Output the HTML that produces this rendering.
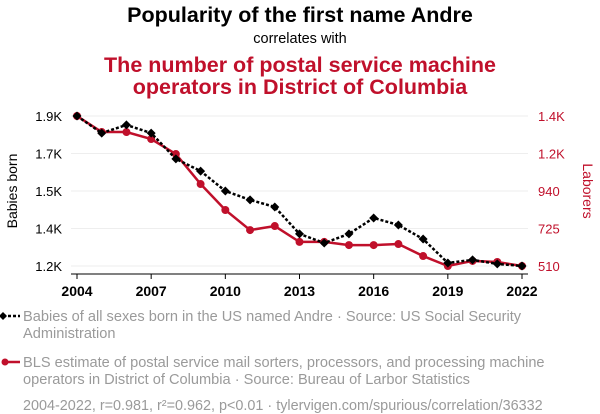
<!DOCTYPE html>
<html><head><meta charset="utf-8"><style>
body{margin:0;background:#fff;}
svg{display:block;font-family:"Liberation Sans",Arial,sans-serif;}
</style></head><body>
<svg id="chart" width="600" height="414" viewBox="0 0 600 414">
<text x="300" y="22" text-anchor="middle" font-size="21.5" font-weight="bold" fill="#000">Popularity of the first name Andre</text>
<text x="300" y="43" text-anchor="middle" font-size="14.5" fill="#000">correlates with</text>
<text x="300" y="72" text-anchor="middle" font-size="21.5" font-weight="bold" fill="#c0102b">The number of postal service machine</text>
<text x="300" y="94" text-anchor="middle" font-size="21.5" font-weight="bold" fill="#c0102b">operators in District of Columbia</text>
<g id="grid"></g><g id="axes"></g><g id="series"></g>
<text transform="translate(17,191) rotate(-90)" text-anchor="middle" font-size="14" fill="#000">Babies born</text>
<text transform="translate(583,191) rotate(90)" text-anchor="middle" font-size="14" fill="#c0102b">Laborers</text>
<g>
<line x1="3" y1="316" x2="20" y2="316" stroke="#000" stroke-width="2.5" stroke-dasharray="3,2"/>
<path d="M3,312 L7,316 L3,320 L-1,316 Z" fill="#000"/>
<text x="23" y="321" font-size="14.6" fill="#9a9a9a">Babies of all sexes born in the US named Andre · Source: US Social Security</text>
<text x="23" y="338" font-size="14.6" fill="#9a9a9a">Administration</text>
</g>
<g>
<line x1="3" y1="362" x2="20" y2="362" stroke="#c0102b" stroke-width="2.5"/>
<circle cx="5" cy="362" r="3.5" fill="#c0102b"/>
<text x="23" y="367" font-size="14.6" fill="#9a9a9a">BLS estimate of postal service mail sorters, processors, and processing machine</text>
<text x="23" y="384" font-size="14.6" fill="#9a9a9a">operators in District of Columbia · Source: Bureau of Larbor Statistics</text>
</g>
<text x="23" y="410" font-size="14.4" fill="#9a9a9a">2004-2022, r=0.981, r²=0.962, p&lt;0.01 · tylervigen.com/spurious/correlation/36332</text>
</svg>
<script>
const years=[2004,2005,2006,2007,2008,2009,2010,2011,2012,2013,2014,2015,2016,2017,2018,2019,2020,2021,2022];
const babies=[1880,1807,1842,1807,1697,1645,1560,1522,1492,1377,1338,1377,1445,1415,1355,1253,1266,1249,1240];
const laborers=[1370,1278,1278,1238,1152,980,831,716,739,648,648,630,630,636,567,510,539,533,510];
const leftTicks=[1880,1720,1560,1400,1240];
const leftLabels=["1.9K","1.7K","1.5K","1.4K","1.2K"];
const rightTicks=[1370,1155,940,725,510];
const rightLabels=["1.4K","1.2K","940","725","510"];
const xTicks=[2004,2007,2010,2013,2016,2019,2022];
const NS="http://www.w3.org/2000/svg";
const X=y=>77+(y-2004)/(2022-2004)*(522-77);
const YL=v=>266-(v-1240)/(1880-1240)*150;
const YR=v=>266-(v-510)/(1370-510)*150;
function mk(t,a,p){const e=document.createElementNS(NS,t);for(const k in a)e.setAttribute(k,a[k]);p.appendChild(e);return e;}
const grid=document.getElementById('grid'),axes=document.getElementById('axes'),ser=document.getElementById('series');
leftTicks.forEach((v,i)=>{
 const g=mk('line',{x1:71,x2:528,y1:YL(v),y2:YL(v),stroke:'#eeeeee','stroke-width':1},grid);
 
 
 const t=mk('text',{x:62,y:YL(v)+5,'text-anchor':'end','font-size':13,fill:'#000'},axes);
 t.textContent=leftLabels[i];
 
 
});
rightTicks.forEach((v,i)=>{
 const t=mk('text',{x:538,y:YR(v)+5,'font-size':13,fill:'#c0102b'},axes);
 t.textContent=rightLabels[i];
 
 
});
const ax=mk('line',{x1:71,x2:528,y1:274,y2:274,stroke:'#000','stroke-width':1},axes);


xTicks.forEach(y=>{
 const l=mk('line',{x1:X(y),x2:X(y),y1:274,y2:279,stroke:'#000'},axes);
 
 
 const t=mk('text',{x:X(y),y:296,'text-anchor':'middle','font-size':14,'font-weight':'bold',fill:'#000'},axes);
 t.textContent=y;
 
 
});
const rl=mk('polyline',{points:years.map((y,i)=>X(y)+','+YR(laborers[i])).join(' '),fill:'none',stroke:'#c0102b','stroke-width':2.5},ser);


years.forEach((y,i)=>{
 const c=mk('circle',{cx:X(y),cy:YR(laborers[i]),r:4,fill:'#c0102b'},ser);
 
 
});
const bl=mk('polyline',{points:years.map((y,i)=>X(y)+','+YL(babies[i])).join(' '),fill:'none',stroke:'#000','stroke-width':2.5,'stroke-dasharray':'3,2'},ser);


years.forEach((y,i)=>{
 const x=X(y),yy=YL(babies[i]);
 const d=mk('path',{d:`M${x},${yy-4.5}L${x+4.5},${yy}L${x},${yy+4.5}L${x-4.5},${yy}Z`,fill:'#000'},ser);
 
 
});
</script>
</body></html>
